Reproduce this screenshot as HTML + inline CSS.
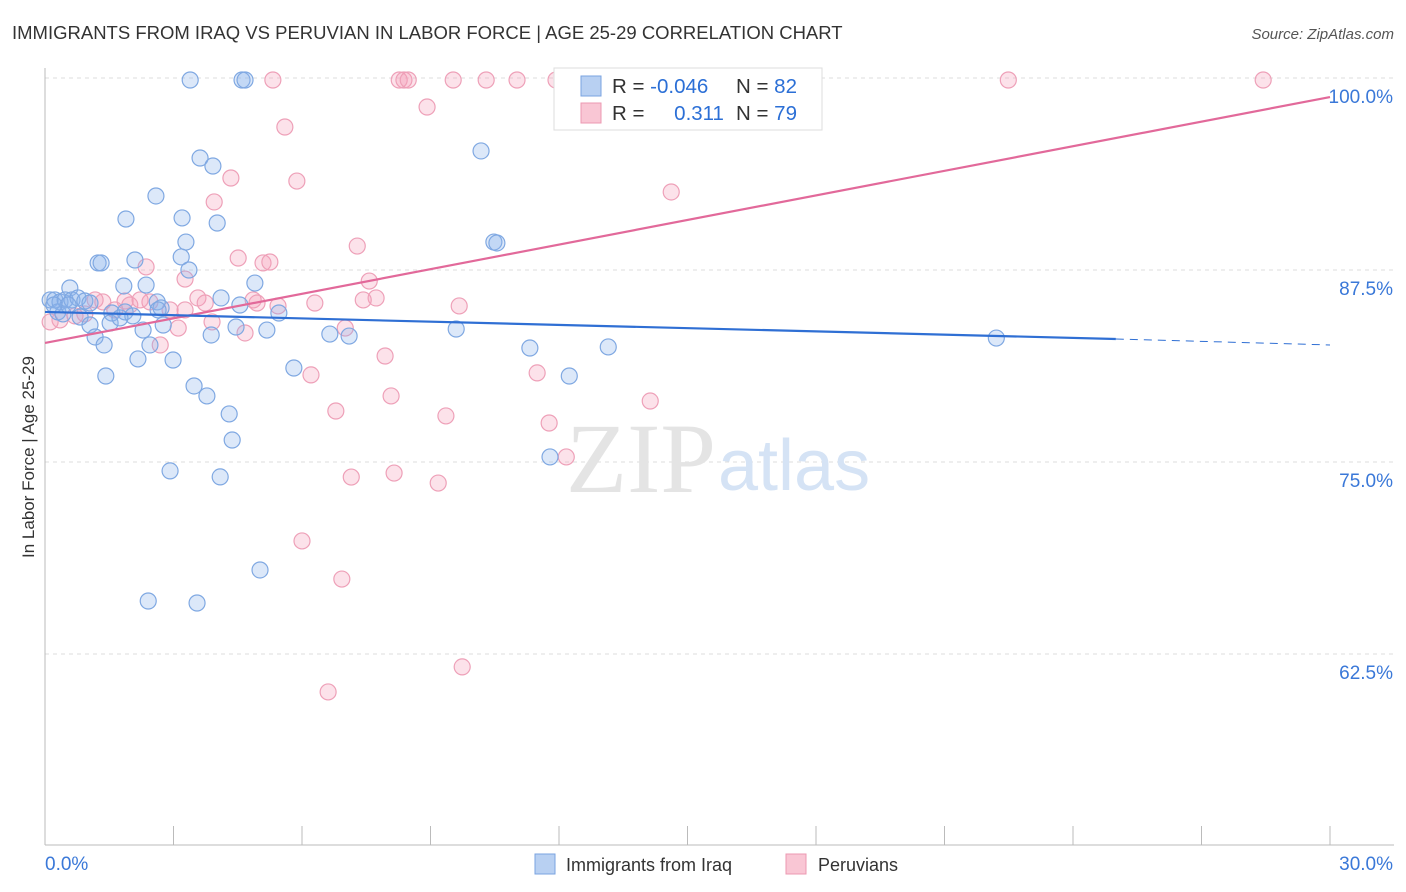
<!DOCTYPE html>
<html><head><meta charset="utf-8">
<style>
body{margin:0;background:#fff;font-family:"Liberation Sans",sans-serif;}
#wrap{position:relative;width:1406px;height:892px;overflow:hidden}
</style></head>
<body>
<div id="wrap">
<svg id="chart" width="1406" height="892" xmlns="http://www.w3.org/2000/svg">
<text x="12" y="39" font-size="18.5" fill="#333">IMMIGRANTS FROM IRAQ VS PERUVIAN IN LABOR FORCE | AGE 25-29 CORRELATION CHART</text>
<text x="1394" y="39" font-size="15" fill="#555" font-style="italic" text-anchor="end">Source: ZipAtlas.com</text>
<text x="34" y="457" font-size="17" fill="#333" text-anchor="middle" transform="rotate(-90 34 457)">In Labor Force | Age 25-29</text>
<g id="grid"></g>
<text x="716" y="492" font-size="100" fill="#e4e4e4" font-family="Liberation Serif,serif" text-anchor="end">ZIP</text>
<text x="718" y="490" font-size="72" fill="#d5e3f5" text-anchor="start">atlas</text>
<g id="pts"></g>
<g id="lines"></g>
<g>
<rect x="554" y="68" width="268" height="62" fill="#fff" stroke="#ddd"/>
<rect x="581" y="76" width="20" height="20" fill="#b8d0f2" stroke="#7aa3e0"/>
<rect x="581" y="103" width="20" height="20" fill="#f9c6d4" stroke="#ec98b2"/>
<text x="612" y="93" font-size="20.5" fill="#333">R = <tspan fill="#2b6fd6">-0.046</tspan></text>
<text x="736" y="93" font-size="20.5" fill="#333">N = <tspan fill="#2b6fd6">82</tspan></text>
<text x="612" y="120" font-size="20.5" fill="#333">R = <tspan fill="#2b6fd6" dx="24">0.311</tspan></text>
<text x="736" y="120" font-size="20.5" fill="#333">N = <tspan fill="#2b6fd6">79</tspan></text>
</g>
<g>
<rect x="535" y="854" width="20" height="20" fill="#b8d0f2" stroke="#7aa3e0"/>
<text x="566" y="871" font-size="18" fill="#333">Immigrants from Iraq</text>
<rect x="786" y="854" width="20" height="20" fill="#f9c6d4" stroke="#ec98b2"/>
<text x="818" y="871" font-size="18" fill="#333">Peruvians</text>
</g>
</svg>
</div>
<script>
const yTicks=[100,87.5,75,62.5];
const yTickLabels=["100.0%","87.5%","75.0%","62.5%"];
const xTicks=[0,3,6,9,12,15,18,21,24,27,30];
const xEndLabels=["0.0%","30.0%"];
const iraqX=[3.39,4.60,4.67,10.18,3.62,3.92,2.59,1.89,3.20,4.02,3.29,10.48,10.55,1.24,1.31,2.10,3.18,3.36,1.84,2.36,0.58,4.90,0.12,0.23,0.35,0.47,0.63,0.77,0.93,1.05,0.30,0.82,1.56,1.87,2.05,2.62,2.71,4.11,4.55,5.46,1.05,1.52,2.29,2.76,4.46,5.18,6.65,7.10,9.60,1.17,1.38,2.45,3.88,11.32,13.15,2.17,2.99,1.42,5.81,12.24,3.48,3.78,4.30,4.37,2.92,4.09,11.79,5.02,2.41,3.55,22.21,0.42,0.54,0.21,1.75,2.64];
const iraqY=[99.87,99.87,99.87,95.25,94.79,94.27,92.32,90.82,90.89,90.56,89.32,89.32,89.26,87.96,87.96,88.15,88.35,87.5,86.46,86.52,86.33,86.65,85.55,85.55,85.42,85.55,85.55,85.68,85.48,85.35,84.77,84.44,84.70,84.77,84.51,85.42,85.03,85.68,85.22,84.70,83.92,84.05,83.59,83.92,83.79,83.59,83.33,83.20,83.66,83.14,82.62,82.62,83.27,82.42,82.49,81.71,81.64,80.60,81.12,80.60,79.95,79.30,78.13,76.43,74.42,74.03,75.33,67.97,65.95,65.82,83.07,84.64,85.22,85.22,84.38,84.90];
const peruX=[5.32,8.27,8.38,8.48,9.53,10.30,11.02,11.93,12.28,14.08,16.06,16.88,22.49,28.44,8.92,5.60,4.34,5.88,3.95,14.62,7.29,2.36,4.51,5.09,5.25,3.27,7.57,7.73,7.43,9.67,6.30,4.86,4.95,5.44,3.57,3.74,1.87,1.98,2.45,1.35,2.92,3.27,1.63,0.93,0.35,0.12,0.70,7.01,3.90,4.67,3.11,2.69,7.94,11.49,6.21,6.79,8.08,9.36,14.13,11.77,12.17,7.15,8.15,9.18,6.00,6.93,9.74,6.61,1.17,2.22];
const peruY=[99.87,99.87,99.87,99.87,99.87,99.87,99.87,99.87,99.87,99.87,99.87,99.87,99.87,99.87,98.11,96.81,93.49,93.29,91.93,92.58,89.06,87.70,88.28,87.96,88.02,86.91,86.78,85.68,85.55,85.16,85.35,85.55,85.35,85.16,85.68,85.35,85.48,85.22,85.42,85.42,84.90,84.90,84.90,84.64,84.25,84.12,84.51,83.72,84.12,83.40,83.72,82.62,81.90,80.80,80.67,78.32,79.30,78.00,78.97,77.54,75.33,74.02,74.28,73.63,69.86,67.38,61.66,60.03,85.55,85.55];
const iraqTrend=[84.77,83.01,82.62];
const peruTrend=[82.75,98.76];
const NS="http://www.w3.org/2000/svg";
const sx=v=>45+v/30*1285;
const sy=v=>78+(100-v)/12.5*192;
function mk(tag,attrs,parent){const e=document.createElementNS(NS,tag);for(const k in attrs)e.setAttribute(k,attrs[k]);parent.appendChild(e);return e;}
const grid=document.getElementById('grid');
yTicks.forEach((t,i)=>{
  const l=mk('line',{x1:45,x2:1394,y1:sy(t),y2:sy(t),stroke:'#ddd','stroke-dasharray':'4,4'},grid);
  
  
  const tx=mk('text',{x:1393,y:sy(t)+25,'font-size':19,fill:'#3a78d8','text-anchor':'end'},grid);
  tx.textContent=yTickLabels[i];
  
  
});
const ax=mk('line',{x1:45,x2:45,y1:68,y2:845,stroke:'#bbb'},grid);


const bx=mk('line',{x1:45,x2:1394,y1:845,y2:845,stroke:'#bbb'},grid);


xTicks.forEach(t=>{
  const l=mk('line',{x1:sx(t),x2:sx(t),y1:826,y2:845,stroke:'#bbb'},grid);
  
  
});
const xl0=mk('text',{x:45,y:870,'font-size':19,fill:'#3a78d8'},grid);
xl0.textContent=xEndLabels[0];


const xl1=mk('text',{x:1393,y:870,'font-size':19,fill:'#3a78d8','text-anchor':'end'},grid);
xl1.textContent=xEndLabels[1];


const pts=document.getElementById('pts');
peruX.forEach((x,i)=>{
  const c=mk('circle',{cx:sx(x),cy:sy(peruY[i]),r:8,fill:'rgba(245,160,185,0.3)',stroke:'#eea0b8','stroke-width':1.2},pts);
  
  
});
iraqX.forEach((x,i)=>{
  const c=mk('circle',{cx:sx(x),cy:sy(iraqY[i]),r:8,fill:'rgba(140,180,235,0.3)',stroke:'#7fa8e2','stroke-width':1.2},pts);
  
  
});
const lines=document.getElementById('lines');
const pl=mk('line',{x1:sx(0),y1:sy(peruTrend[0]),x2:sx(30),y2:sy(peruTrend[1]),stroke:'#e2699a','stroke-width':2.2},lines);


const il=mk('line',{x1:sx(0),y1:sy(iraqTrend[0]),x2:sx(25),y2:sy(iraqTrend[1]),stroke:'#2f6fd4','stroke-width':2.2},lines);


const id=mk('line',{x1:sx(25),y1:sy(iraqTrend[1]),x2:sx(30),y2:sy(iraqTrend[2]),stroke:'#2f6fd4','stroke-width':1,'stroke-dasharray':'8,6'},lines);


</script>
</body></html>
